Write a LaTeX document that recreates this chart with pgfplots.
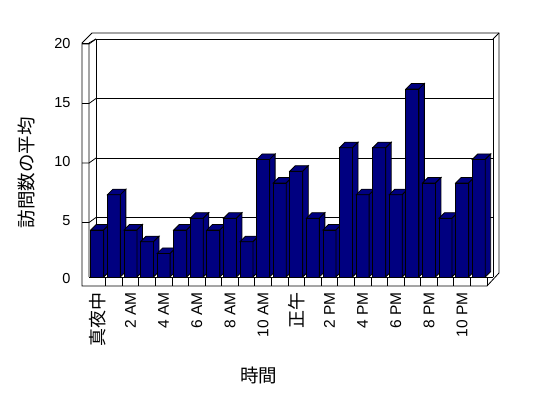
\documentclass[border=0pt]{standalone}
\usepackage{fontspec}
\setmainfont{Liberation Sans}
\newfontfamily\cjk{Noto Sans CJK JP}
\usepackage{pgfplots}
\pgfplotsset{compat=1.18}
\usepackage{pgfplotstable}
\definecolor{barblue}{RGB}{0,0,128}

\pgfplotstableread{
x y
0.5 4
1.5 7
2.5 4
3.5 3
4.5 2
5.5 4
6.5 5
7.5 4
8.5 5
9.5 3
10.5 10
11.5 8
12.5 9
13.5 5
14.5 4
15.5 11
16.5 7
17.5 11
18.5 7
19.5 16
20.5 8
21.5 5
22.5 8
23.5 10
}\visits

\pgfdeclareplotmark{bar3d}{%
  \pgfmathsetlengthmacro\barh{\yval*11.75pt}%
  \filldraw[fill=barblue,draw=black,line width=0.8pt,line join=miter] (-6.5pt,-\barh) rectangle (6.5pt,0pt);
  \filldraw[fill=barblue,draw=black,line width=0.8pt,line join=miter] (-6.5pt,0pt) -- (6.5pt,0pt) -- (12pt,5.5pt) -- (-1pt,5.5pt) -- cycle;
  \filldraw[fill=barblue,draw=black,line width=0.8pt,line join=miter] (6.5pt,0pt) -- (6.5pt,-\barh) -- (12pt,-\barh+5.5pt) -- (12pt,5.5pt) -- cycle;
}

\begin{document}
\begin{tikzpicture}
\useasboundingbox[fill=white] (0,0) rectangle (548pt,398pt);
% walls and floor
\begin{scope}[line width=0.8pt, x=1pt, y=1pt]
\draw (82,112) -- (82,355) -- (92,365) -- (499,365) -- (499,125) -- (487,112) -- cycle;
\draw (89,121) -- (89,355) -- (96,359);
\draw (82,355) -- (89,355);
\draw (96,121) -- (96,359) -- (493,359) -- (493,121);
\draw (493,359) -- (499,365);
\draw (89,121) -- (493,121);
\draw (487,112) -- (487,121);
\foreach \k in {1,...,23} {\draw ({89+16.5833*\k},112) -- ({89+16.5833*\k},121);}
\foreach \j in {1,2,3,4} {
  \draw (96,{121+59.5*\j}) -- (493,{121+59.5*\j});
  \draw (96,{121+59.5*\j}) -- (89,{116+59.5*\j}) -- (82,{116+59.5*\j});
}
\end{scope}
\begin{axis}[
  at={(89pt,121pt)}, anchor=south west,
  x=16.5833pt, y=11.75pt,
  xmin=0, xmax=24, ymin=0, ymax=20,
  axis line style={draw=none},
  major tick length=0pt,
  clip=false,
  ytick={0,5,10,15,20},
  xtick={0.5,2.5,...,22.5},
  xticklabels={{\fontsize{18}{20}\selectfont\cjk 真夜中},2 AM,4 AM,6 AM,8 AM,10 AM,{\fontsize{18}{20}\selectfont\cjk 正午},2 PM,4 PM,6 PM,8 PM,10 PM},
  /pgf/number format/assume math mode=true,
  yticklabel style={font=\fontsize{14.5}{16}\selectfont, anchor=east, yshift=-2pt},
  xticklabel style={font=\fontsize{15.5}{17}\selectfont, rotate=90, anchor=east},
  xticklabel shift=12pt,
  yticklabel shift=15pt,
  xlabel={\cjk 時間},
  ylabel={\cjk 訪問数の平均},
  label style={font=\fontsize{18.5}{20}\selectfont},
  xlabel style={at={(axis description cs:0.427,-0.417)}, anchor=center},
  ylabel style={at={(axis description cs:-0.156,0.443)}, anchor=center, rotate=0},
]
\addplot[scatter, only marks, mark=bar3d,
  scatter/use mapped color={draw=black,fill=barblue},
  visualization depends on={\thisrow{y} \as \yval}] table[x=x,y=y] {\visits};
\end{axis}
\end{tikzpicture}
\end{document}
